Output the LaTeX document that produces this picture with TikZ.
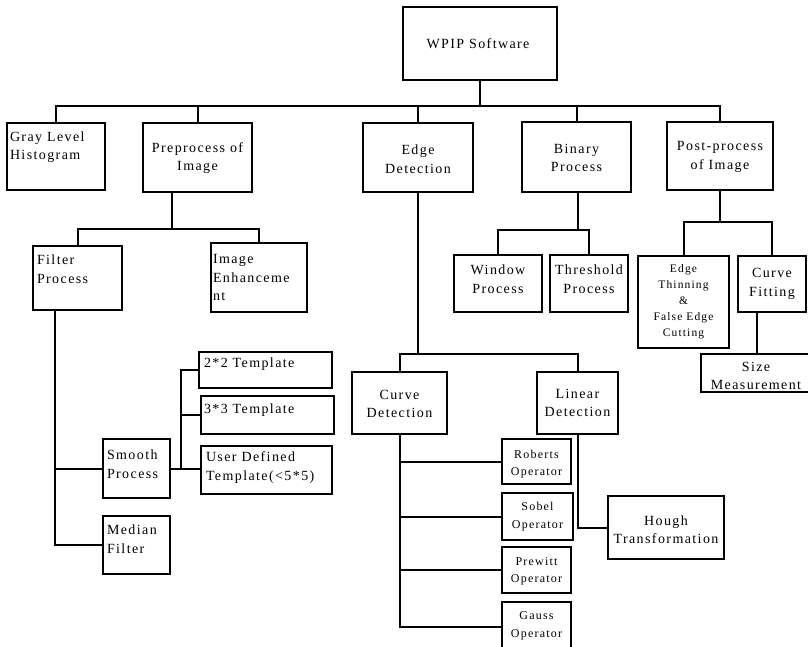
\documentclass[tikz,border=0pt]{standalone}
\usepackage{fontspec}
\setmainfont{Liberation Serif}[LetterSpace=10]
\usetikzlibrary{fit}
\newcommand\mkbox[5]{\node[boxst, fit={(#2,#3) (#4,#5)}] (#1) {};}
\begin{document}
\begin{tikzpicture}[x=1pt,y=-1pt, line width=2pt,
  boxst/.style={draw, inner sep=0pt, line width=1.8pt},
  txt/.style={inner sep=0pt, font=\fontsize{14}{18.5}\selectfont, align=center},
  ltxt/.style={txt, align=left, anchor=west},
  stxt/.style={inner sep=0pt, font=\fontsize{11.5}{16}\selectfont, align=center},
  otxt/.style={inner sep=0pt, font=\fontsize{12}{17.5}\selectfont, align=center}]
\useasboundingbox (0,0) rectangle (808,646);

% boxes
\mkbox{wpip}{403}{7}{557}{80}
\mkbox{gray}{7}{123}{105}{190}
\mkbox{pre}{143}{123}{252}{192}
\mkbox{edge}{363}{123}{473}{192}
\mkbox{bin}{522}{122}{631}{192}
\mkbox{post}{667}{122}{773}{190}
\mkbox{filter}{33}{246}{122}{310}
\mkbox{enh}{211}{243}{307}{312}
\mkbox{win}{454}{255}{542}{312}
\mkbox{thr}{550}{255}{628}{312}
\mkbox{thin}{638}{256}{729}{348}
\mkbox{cfit}{738}{256}{806}{312}
\mkbox{size}{701}{354}{812}{392}
\mkbox{t22}{199}{352}{332}{388}
\mkbox{t33}{201}{396}{334}{434}
\mkbox{user}{201}{446}{332}{494}
\mkbox{smooth}{103}{439}{170}{498}
\mkbox{median}{103}{516}{170}{574}
\mkbox{curve}{352}{372}{447}{434}
\mkbox{lin}{537}{372}{618}{434}
\mkbox{rob}{502}{439}{571}{484}
\mkbox{sob}{502}{493}{573}{540}
\mkbox{prw}{502}{547}{571}{593}
\mkbox{gau}{502}{602}{571}{652}
\mkbox{hough}{608}{496}{724}{559}

% texts
\node[txt] (twpip) at (478,44) {WPIP Software};
\node[ltxt] (tgray) at (9,147) {Gray Level\\Histogram};
\node[txt] (tpre) at (197.5,158) {Preprocess of\\Image};
\node[txt] (tedge) at (418,159) {Edge\\Detection};
\node[txt] (tbin) at (576.5,158) {Binary\\Process};
\node[txt] (tpost) at (720,157) {Post-process\\of Image};
\node[ltxt] (tfilter) at (36,269) {Filter\\Process};
\node[ltxt] (tenh) at (212,277.5) {Image\\Enhanceme\\nt};
\node[txt] (twin) at (498,279) {Window\\Process};
\node[txt] (tthr) at (589,279) {Threshold\\Process};
\node[stxt] (tthin) at (683.5,302) {Edge\\Thinning\\\&\\False Edge\\Cutting};
\node[txt] (tfit) at (772,284) {Curve\\Fitting};
\node[txt] (tsize) at (756,376) {Size\\Measurement};
\node[ltxt] (tt22) at (203,364) {2*2 Template};
\node[ltxt] (tt33) at (203,410) {3*3 Template};
\node[ltxt] (tuser) at (205,467.5) {User Defined\\Template(<5*5)};
\node[ltxt] (tsmooth) at (106,464) {Smooth\\Process};
\node[ltxt] (tmedian) at (106,539) {Median\\Filter};
\node[txt] (tcurve) at (399.5,404) {Curve\\Detection};
\node[txt] (tlin) at (577.5,403) {Linear\\Detection};
\node[otxt] (trob) at (536.5,464) {Roberts\\Operator};
\node[otxt] (tsob) at (537.5,516.5) {Sobel\\Operator};
\node[otxt] (tprw) at (536.5,571.5) {Prewitt\\Operator};
\node[otxt] (tgau) at (536.5,626) {Gauss\\Operator};
\node[txt] (though) at (666,529.5) {Hough\\Transformation};

% connectors
\coordinate (j0) at (480,106);
\draw (wpip.south -| j0) -- (j0);
\draw (gray.north) |- (j0) -| (post.north);
\draw (pre.north) -- (pre.north |- j0);
\draw (edge.north) -- (edge.north |- j0);
\draw (bin.north) -- (bin.north |- j0);

\coordinate (j1) at (172,229);
\draw (pre.south -| j1) -- (j1);
\draw (filter.north) |- (j1) -| (enh.north);

\coordinate (j2) at (55,310);
\draw (j2) |- (median.west);
\draw (smooth.west) -- (smooth.west -| j2);

\coordinate (j3) at (181,469);
\draw (smooth.east) -- (smooth.east -| user.west);
\draw (j3) |- (t22.west);
\draw (t33.west) -- (t33.west -| j3);

\coordinate (j4) at (578,230);
\draw (bin.south -| j4) -- (j4);
\draw (win.north) |- (j4) -| (thr.north);

\coordinate (j5) at (720,222);
\draw (post.south) -- (post.south |- j5);
\draw (thin.north) |- (j5) -| (cfit.north);
\draw (size.north) -- (size.north |- cfit.south);

\coordinate (j6) at (418,354);
\draw (edge.south) -- (edge.south |- j6);
\draw (curve.north) |- (j6) -| (lin.north);

\draw (curve.south) |- (gau.west);
\draw (rob.west) -- (rob.west -| curve.south);
\draw (sob.west) -- (sob.west -| curve.south);
\draw (prw.west) -- (prw.west -| curve.south);

\draw (lin.south) |- (hough.west);
\end{tikzpicture}
\end{document}
